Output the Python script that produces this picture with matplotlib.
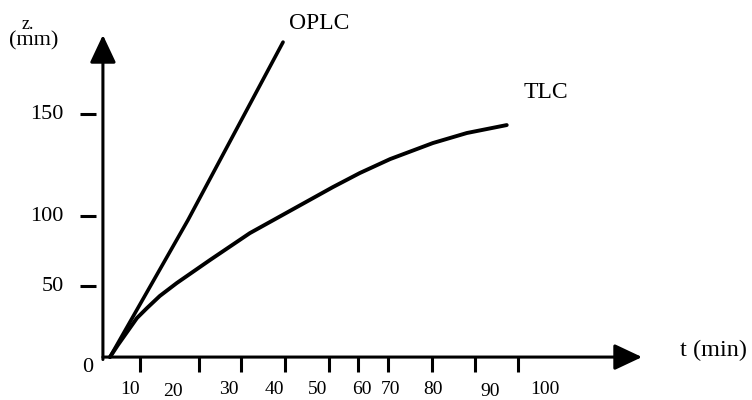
"""
plot.py

Migration distance vs. time, OPLC and TLC (hand-drawn style sketch).
"""

import matplotlib
matplotlib.use("Agg")
import matplotlib.pyplot as plt

# ----------------------------------------------------
# Data (drawing units)
# ----------------------------------------------------

oplc_t = [1.7, 20.5, 43.4]
oplc_z = [0.0, 84.6, 194.4]

tlc_t = [1.7, 3.6, 5.8, 8.2, 10.6, 13.7, 17.8, 25.8, 35.4,
         55.4, 61.9, 69.2, 79.5, 87.7, 97.3]
tlc_z = [0.0, 7.4, 15.4, 24.1, 30.2, 37.7, 45.7, 59.9, 76.5,
         104.9, 113.6, 122.2, 132.1, 138.3, 143.2]

x_tick_pos = [8.9, 23.1, 33.3, 43.9, 54.5, 61.4, 68.7, 79.3, 89.6, 100.0]
x_tick_labels = ["10", "20", "30", "40", "50", "60", "70", "80", "90", "100"]
x_label_pos = [6.5, 16.9, 30.4, 41.2, 51.8, 62.4, 69.2, 79.5, 93.3, 106.5]
x_label_drop = [0, 1, 0, 0, 0, 0, 0, 0, 1, 0]

y_tick_pos = [43.8, 87.0, 150.0]
y_tick_labels = ["50", "100", "150"]

# ----------------------------------------------------
# Figure
# ----------------------------------------------------

plt.rcParams["font.family"] = ["Liberation Serif", "DejaVu Serif"]

fig = plt.figure(figsize=(7.52, 4.0), dpi=100)
ax = fig.add_axes([0, 0, 1, 1])
ax.set_xlim(-24.8, 156.4)
ax.set_ylim(-26.5, 220.4)
ax.axis("off")

# axes with arrow heads
arrow = dict(arrowstyle="-|>,head_length=17,head_width=8", mutation_scale=1,
             lw=2.2, color="black", shrinkA=0, shrinkB=0)
ax.annotate("", xy=(129.9, 0), xytext=(0, 0), arrowprops=arrow)
ax.annotate("", xy=(0, 198.8), xytext=(0, -1.5), arrowprops=arrow)

# ticks
for x in x_tick_pos:
    ax.plot([x, x], [0, -9.3], color="black", lw=2.2, solid_capstyle="butt")
for y in y_tick_pos:
    ax.plot([-5.5, -1.7], [y, y], color="black", lw=2.2, solid_capstyle="butt")

# tick labels
for x, lab, d in zip(x_label_pos, x_tick_labels, x_label_drop):
    ax.text(x, -20.0 - 1.4 * d, lab, ha="center", va="center", fontsize=14)
for y, lab in zip(y_tick_pos, y_tick_labels):
    ax.text(-9.4, y, lab, ha="right", va="center", fontsize=16)
ax.text(-3.6, -6.2, "0", ha="center", va="center", fontsize=16)

# curves
ax.plot(oplc_t, oplc_z, color="black", lw=2.6, solid_capstyle="round")
ax.plot(tlc_t, tlc_z, color="black", lw=2.8, solid_capstyle="round",
        solid_joinstyle="round")

# labels
ax.text(52.0, 205.6, "OPLC", ha="center", va="center", fontsize=17)
ax.text(106.7, 163.6, "TLC", ha="center", va="center", fontsize=17)
ax.text(139.0, 4.3, "t (min)", ha="left", va="center", fontsize=17.5)
ax.text(-16.6, 195.2, "(mm)", ha="center", va="center", fontsize=16)
ax.text(-18.1, 205.0, "z.", ha="center", va="center", fontsize=13)

fig.savefig("out.png", dpi=100)
